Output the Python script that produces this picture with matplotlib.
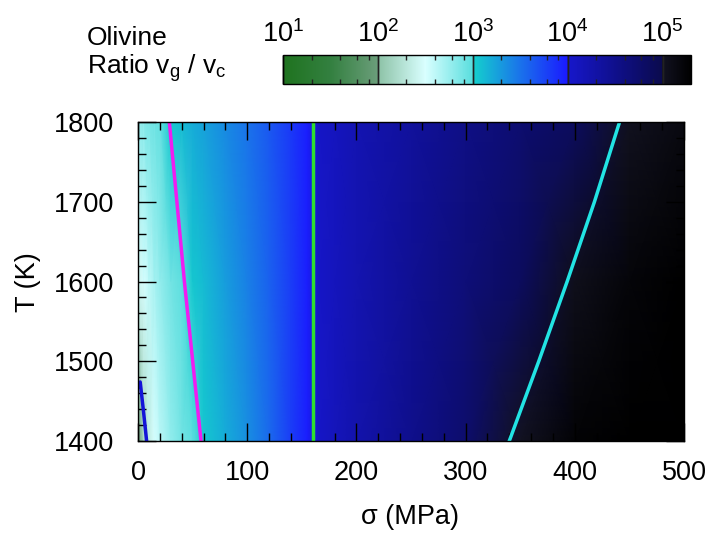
import matplotlib
matplotlib.use("Agg")
import matplotlib.pyplot as plt
import numpy as np
from matplotlib.colors import ListedColormap
from matplotlib.ticker import MultipleLocator

plt.rcParams['font.family'] = ['Liberation Sans', 'DejaVu Sans']
plt.rcParams['mathtext.fontset'] = 'custom'
plt.rcParams['mathtext.rm'] = 'Liberation Sans'
plt.rcParams['mathtext.it'] = 'Liberation Sans'
plt.rcParams['mathtext.default'] = 'rm'

# stress (MPa) and temperature (K) grid of the ratio map
sigma = [0, 5, 10, 15, 20, 30, 40, 50, 60, 80, 100, 120, 140, 155, 165,
         180, 200, 250, 300, 350, 400, 450, 500]
temps = [1400, 1600, 1800]
# log10(v_g / v_c), one row per temperature
logratio_1400 = [1.95, 2.15, 2.35, 2.5, 2.62, 2.78, 2.9, 2.98, 3.05, 3.2, 3.35, 3.55,
                 3.8, 3.97, 4.04, 4.13, 4.25, 4.5, 4.75, 5.0, 5.25, 5.45, 5.6]
logratio_1600 = [2.4, 2.5, 2.6, 2.7, 2.77, 2.9, 2.98, 3.05, 3.12, 3.28, 3.43, 3.6,
                 3.8, 3.97, 4.04, 4.12, 4.22, 4.45, 4.66, 4.86, 5.05, 5.22, 5.38]
logratio_1800 = [2.75, 2.82, 2.88, 2.92, 2.95, 3.05, 3.12, 3.2, 3.25, 3.38, 3.5, 3.65,
                 3.82, 3.97, 4.04, 4.1, 4.2, 4.38, 4.56, 4.72, 4.87, 5.02, 5.15]

# boundary curves
blue_sigma = [1.2, 2.0, 4.8, 7.9]
blue_T = [1468, 1474, 1440, 1400]
magenta_sigma = [28.7, 42.5, 57.7]
magenta_T = [1800, 1600, 1400]
green_sigma = [160, 160]
green_T = [1400, 1800]
cyan_sigma = [340, 367, 393, 418, 441]
cyan_T = [1400, 1500, 1600, 1700, 1800]

cbar_ticks = [1, 2, 3, 4, 5]
cbar_labels = ['$10^{1}$', '$10^{2}$', '$10^{3}$', '$10^{4}$', '$10^{5}$']

# palette with steps at each decade
vmin, vmax = 1.0, 5.3
anchors = [
    (1.0, (0.12, 0.45, 0.12)),
    (1.5, (0.20, 0.50, 0.25)),
    (1.999, (0.42, 0.62, 0.48)),
    (2.0, (0.55, 0.76, 0.65)),
    (2.5, (0.85, 1.00, 1.00)),
    (2.999, (0.35, 0.87, 0.87)),
    (3.0, (0.08, 0.82, 0.80)),
    (3.5, (0.10, 0.45, 0.92)),
    (3.999, (0.10, 0.10, 1.00)),
    (4.0, (0.09, 0.09, 0.80)),
    (4.5, (0.06, 0.06, 0.55)),
    (4.999, (0.04, 0.04, 0.30)),
    (5.0, (0.07, 0.07, 0.13)),
    (5.3, (0.00, 0.00, 0.00)),
]
pos = np.array([a[0] for a in anchors])
cols = np.array([a[1] for a in anchors])
xs = np.linspace(vmin, vmax, 1024)
cmap = ListedColormap(np.column_stack([np.interp(xs, pos, cols[:, i]) for i in range(3)]))

fig = plt.figure(figsize=(7.15, 5.35), dpi=100)
ax = fig.add_axes([138/715, 1-441/535, 546/715, 319/535])
cax = fig.add_axes([283/715, 1-84/535, 408/715, 29/535])

field = np.array([logratio_1400, logratio_1600, logratio_1800])
mesh = ax.pcolormesh(sigma, temps, field, cmap=cmap, vmin=vmin, vmax=vmax,
                     shading='gouraud', rasterized=True)

ax.plot(blue_sigma, blue_T, color='#1414d8', lw=2.5)
ax.plot(magenta_sigma, magenta_T, color='#f01cf0', lw=2.5)
ax.plot(green_sigma, green_T, color='#2ee02e', lw=2.5)
ax.plot(cyan_sigma, cyan_T, color='#22e4e4', lw=2.5)

ax.set_xlim(0, 500)
ax.set_ylim(1400, 1800)
ax.xaxis.set_major_locator(MultipleLocator(100))
ax.xaxis.set_minor_locator(MultipleLocator(20))
ax.yaxis.set_major_locator(MultipleLocator(100))
ax.yaxis.set_minor_locator(MultipleLocator(20))
ax.tick_params(which='both', direction='in', top=True, right=True, labelsize=19.5)
ax.tick_params(axis='y', pad=17)
ax.tick_params(axis='x', pad=14)
ax.tick_params(which='major', length=13, width=1)
ax.tick_params(which='minor', length=6, width=1)
for s in ax.spines.values():
    s.set_linewidth(1)

fig.text(410/715, 1-517/535, 'σ (MPa)', ha='center', va='center', fontsize=19.5)
fig.text(28/715, 1-282/535, 'T (K)', ha='center', va='center', rotation=90, fontsize=19.5)

cb = fig.colorbar(mesh, cax=cax, orientation='horizontal')
cb.set_ticks(cbar_ticks, labels=cbar_labels)
minor = [d + np.log10(m) for d in range(1, 6) for m in (2, 4, 6, 8) if d + np.log10(m) < vmax]
cb.set_ticks(minor, minor=True)
cax.xaxis.set_ticks_position('both')
cax.tick_params(labeltop=True, labelbottom=False, labelsize=19.5, pad=5)
cax.tick_params(which='major', direction='in', length=21, width=1, color='#222222')
cax.tick_params(which='minor', direction='in', length=3.5, width=1, color='#222222')
cb.outline.set_linewidth(1)

fig.text(87/715, 1-38/535, 'Olivine', ha='left', va='center', fontsize=19)
fig.text(87/715, 1-68/535, 'Ratio v$_g$ / v$_c$', ha='left', va='center', fontsize=19)

fig.savefig('out.png', dpi=100)
